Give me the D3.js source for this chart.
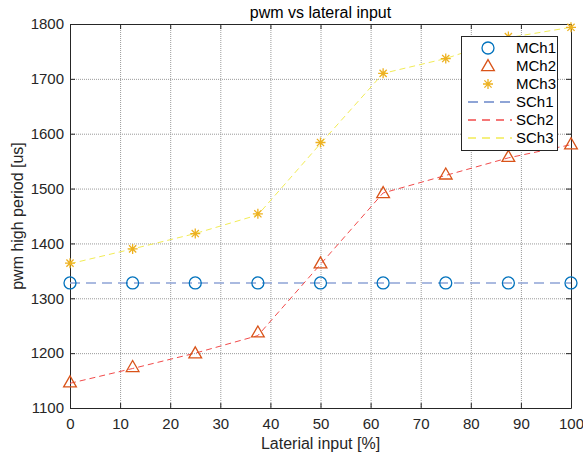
<!doctype html>
<html lang="en">
<head>
  <meta charset="utf-8">
  <title>pwm vs lateral input</title>
  <style>
    body { margin: 0; background: #fff; }
    svg { font-family: "Liberation Sans", Arial, sans-serif; }
    .grid line { stroke: #9a9a9a; stroke-dasharray: 1,1; stroke-width: 1; }
  </style>
</head>
<body>
  <div id="chart"></div>
  <script src="https://cdn.jsdelivr.net/npm/d3@7/dist/d3.min.js"></script>
  <script>
(function(){

  // lateral input [%]
  var xInput = [0, 12.5, 25, 37.5, 50, 62.5, 75, 87.5, 100];

  // measured
  var mch1 = [1328, 1328, 1328, 1328, 1328, 1328, 1328, 1328, 1328];
  var mch2 = [1147, 1175, 1200, 1238, 1364, 1492, 1526, 1558, 1581];
  var mch3 = [1364, 1390, 1418, 1454, 1584, 1710, 1737, 1777, 1794];

  // simulated
  var sch1 = [1328, 1328, 1328, 1328, 1328, 1328, 1328, 1328, 1328];
  var sch2 = [1145, 1172, 1200, 1232, 1362, 1492, 1524, 1556, 1580];
  var sch3 = [1363, 1390, 1418, 1452, 1582, 1710, 1737, 1775, 1794];

  var xTicks = [0, 10, 20, 30, 40, 50, 60, 70, 80, 90, 100];
  var yTicks = [1100, 1200, 1300, 1400, 1500, 1600, 1700, 1800];
  var legendNames = ["MCh1", "MCh2", "MCh3", "SCh1", "SCh2", "SCh3"];

  var width = 583, height = 458;
  var margin = {top: 24, right: 12, bottom: 50, left: 70};
  var w = width - margin.left - margin.right;
  var h = height - margin.top - margin.bottom;

  var svg = d3.select("#chart").append("svg")
      .attr("width", width)
      .attr("height", height);

  var x = d3.scaleLinear().domain([0, 100]).range([margin.left, margin.left + w]);
  var y = d3.scaleLinear().domain([1100, 1800]).range([margin.top + h, margin.top]);

  // grid
  var grid = svg.append("g").attr("class", "grid");
  grid.selectAll(".gx").data(xTicks.slice(1, -1)).enter().append("line")
      .attr("x1", d => x(d) + 0.5).attr("x2", d => x(d) + 0.5)
      .attr("y1", margin.top).attr("y2", margin.top + h);
  grid.selectAll(".gy").data(yTicks.slice(1, -1)).enter().append("line")
      .attr("y1", d => y(d) + 0.5).attr("y2", d => y(d) + 0.5)
      .attr("x1", margin.left).attr("x2", margin.left + w);

  // axes (ticks inward, box on)
  function styleAxis(g) {
    g.attr("font-size", 15).attr("font-family", null);
    g.select(".domain").attr("stroke", "#262626");
    g.selectAll(".tick line").attr("stroke", "#262626");
    g.selectAll(".tick text").attr("fill", "#262626");
  }
  var fmt = d3.format("d");
  svg.append("g")
      .attr("transform", "translate(0," + (margin.top + h) + ")")
      .call(d3.axisBottom(x).tickValues(xTicks).tickFormat(fmt).tickSizeInner(-5).tickSizeOuter(0).tickPadding(10))
      .call(styleAxis);
  svg.append("g")
      .attr("transform", "translate(0," + margin.top + ")")
      .call(d3.axisTop(x).tickValues(xTicks).tickSizeInner(-5).tickSizeOuter(0).tickFormat(""))
      .call(styleAxis);
  svg.append("g")
      .attr("transform", "translate(" + margin.left + ",0)")
      .call(d3.axisLeft(y).tickValues(yTicks).tickFormat(fmt).tickSizeInner(-5).tickSizeOuter(0).tickPadding(6))
      .call(styleAxis);
  svg.append("g")
      .attr("transform", "translate(" + (margin.left + w) + ",0)")
      .call(d3.axisRight(y).tickValues(yTicks).tickSizeInner(-5).tickSizeOuter(0).tickFormat(""))
      .call(styleAxis);

  // lines
  var line = d3.line().x((d, i) => x(xInput[i])).y(d => y(d));
  var sStyles = [
    {data: sch1, color: "#8ea4d6", width: 1.5, dash: "10,6"},
    {data: sch2, color: "#f24b4b", width: 1, dash: "6,4"},
    {data: sch3, color: "#f2ec55", width: 1, dash: "6,4"}
  ];
  sStyles.forEach(function(s) {
    svg.append("path")
        .attr("d", line(s.data))
        .attr("fill", "none")
        .attr("stroke", s.color)
        .attr("stroke-width", s.width)
        .attr("stroke-dasharray", s.dash);
  });

  // markers
  var circleColor = "#0072BD", triColor = "#D95319", starColor = "#EDB120";
  var tri = d3.symbol().type(d3.symbolTriangle).size(70);
  var starPath = "M-5,0L5,0M0,-5L0,5M-3.6,-3.6L3.6,3.6M-3.6,3.6L3.6,-3.6";

  function drawCircle(g, cx, cy) {
    g.append("circle").attr("cx", cx).attr("cy", cy).attr("r", 6)
        .attr("fill", "none").attr("stroke", circleColor).attr("stroke-width", 1.3);
  }
  function drawTri(g, cx, cy) {
    g.append("path").attr("d", tri()).attr("transform", "translate(" + cx + "," + (cy + 1) + ")")
        .attr("fill", "none").attr("stroke", triColor).attr("stroke-width", 1.3);
  }
  function drawStar(g, cx, cy) {
    g.append("path").attr("d", starPath).attr("transform", "translate(" + cx + "," + cy + ")")
        .attr("fill", "none").attr("stroke", starColor).attr("stroke-width", 1.3);
  }

  var marks = svg.append("g");
  xInput.forEach(function(v, i) {
    drawCircle(marks, x(v), y(mch1[i]));
    drawTri(marks, x(v), y(mch2[i]));
    drawStar(marks, x(v), y(mch3[i]));
  });

  // title and labels
  svg.append("text")
      .attr("x", margin.left + w / 2).attr("y", 18)
      .attr("text-anchor", "middle")
      .attr("font-size", 16).attr("fill", "#000")
      .text("pwm vs lateral input");
  svg.append("text")
      .attr("x", margin.left + w / 2).attr("y", 449)
      .attr("text-anchor", "middle")
      .attr("font-size", 16).attr("fill", "#262626")
      .text("Laterial input [%]");
  svg.append("text")
      .attr("transform", "translate(23," + (margin.top + h / 2) + ") rotate(-90)")
      .attr("text-anchor", "middle")
      .attr("font-size", 16).attr("fill", "#262626")
      .text("pwm high period [us]");

  // legend
  var lg = svg.append("g").attr("transform", "translate(461,36)");
  lg.append("rect").attr("x", 0.5).attr("y", 0.5).attr("width", 96).attr("height", 114)
      .attr("fill", "#fff").attr("stroke", "#262626").attr("stroke-width", 1);
  legendNames.forEach(function(name, i) {
    var cy = 12 + i * 18;
    if (i === 0) drawCircle(lg, 27, cy);
    else if (i === 1) drawTri(lg, 27, cy);
    else if (i === 2) drawStar(lg, 27, cy);
    else {
      var s = sStyles[i - 3];
      lg.append("line").attr("x1", 7).attr("x2", 51).attr("y1", cy).attr("y2", cy)
          .attr("stroke", s.color).attr("stroke-width", s.width + 0.5)
          .attr("stroke-dasharray", i === 3 ? "10,6" : "8,6");
    }
    lg.append("text").attr("x", 55).attr("y", cy + 5)
        .attr("font-size", 15).attr("fill", "#000")
        .text(name);
  });

})();
  </script>
</body>
</html>
